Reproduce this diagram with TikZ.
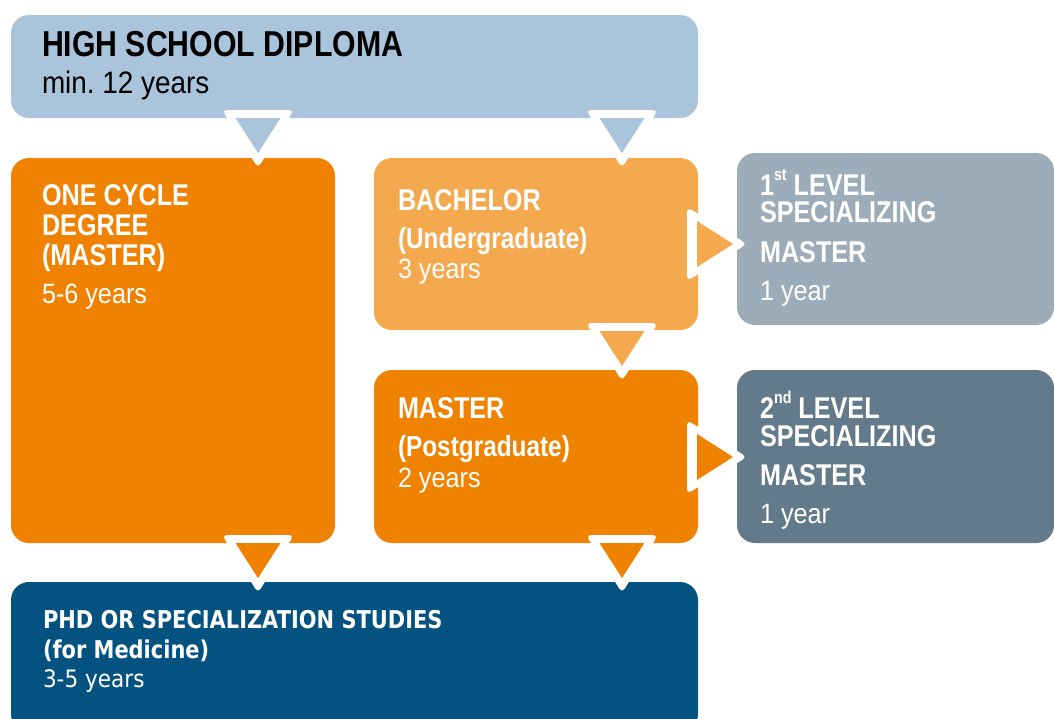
\documentclass[tikz,border=0pt]{standalone}
\usepackage{fontspec}
\setmainfont{Liberation Sans}[UprightFeatures={FakeStretch=0.9},BoldFeatures={FakeStretch=0.84}]
\newfontfamily\phdfont{DejaVu Sans}[UprightFeatures={FakeStretch=0.9},BoldFeatures={FakeStretch=0.855}]
\usetikzlibrary{calc}
\definecolor{topc}{HTML}{A9C4DB}
\definecolor{orgc}{HTML}{EF8200}
\definecolor{lorc}{HTML}{F5A94F}
\definecolor{gonec}{HTML}{9CADB9}
\definecolor{gtwoc}{HTML}{637A8A}
\definecolor{phdc}{HTML}{04527F}
\newcommand\downtri[2]{%
  \fill[white, rounded corners=5pt] ($(#1)+(-36,-8)$) -- ($(#1)+(36,-8)$) -- ($(#1)+(0,50)$) -- cycle;
  \fill[#2] ($(#1)+(-22.5,0)$) -- ($(#1)+(22.5,0)$) -- ($(#1)+(0,35)$) -- cycle;}
\newcommand\righttri[2]{%
  \fill[white, rounded corners=5pt] ($(#1)+(-10,-37)$) -- ($(#1)+(-10,37)$) -- ($(#1)+(50,0)$) -- cycle;
  \fill[#2] ($(#1)+(0,-23)$) -- ($(#1)+(0,23)$) -- ($(#1)+(36,0)$) -- cycle;}
\newcommand\supr[1]{\raisebox{15pt}{\fontsize{17}{17}\selectfont #1}}
\begin{document}
\begin{tikzpicture}[x=1pt,y=-1pt,
  box/.style={draw=none, rounded corners=18pt, inner sep=0pt, outer sep=0pt},
  lbl/.style={anchor=base west, inner sep=0pt, outer sep=0pt, text=white},
  ttl/.style={font=\fontsize{36}{36}\selectfont\bfseries},
  ttlr/.style={font=\fontsize{31}{31}\selectfont\frenchspacing},
  hb/.style={font=\fontsize{30}{30}\selectfont\bfseries},
  hbp/.style={font=\fontsize{29}{29}\selectfont\bfseries},
  hr/.style={font=\fontsize{28}{28}\selectfont},
  pb/.style={font=\fontsize{24.5}{24.5}\selectfont\phdfont\bfseries},
  pr/.style={font=\fontsize{24}{24}\selectfont\phdfont},
  tight/.style={text depth=0pt},
  capsonly/.style={text height=22pt}]
\useasboundingbox (0,0) rectangle (1054,718);
\clip (0,0) rectangle (1054,718);
% boxes
\node[box, fill=topc, minimum width=687pt, minimum height=103pt] (top) at (354.5,66.5) {};
\node[box, fill=orgc, minimum width=324pt, minimum height=385pt] (one) at (173,350.5) {};
\node[box, fill=lorc, minimum width=324pt, minimum height=172pt] (bach) at (536,244) {};
\node[box, fill=orgc, minimum width=324pt, minimum height=173pt] (mast) at (536,456.5) {};
\node[box, fill=gonec, minimum width=317pt, minimum height=172pt] (lvlone) at (895.5,239) {};
\node[box, fill=gtwoc, minimum width=317pt, minimum height=173pt] (lvltwo) at (895.5,456.5) {};
\node[box, fill=phdc, minimum width=687pt, minimum height=150pt] (phd) at (354.5,657) {};
% arrow heads
\coordinate (aone) at (258,118);
\coordinate (atwo) at (622,118);
\coordinate (athree) at (622,331);
\coordinate (afour) at (258,543);
\coordinate (afive) at (622,543);
\coordinate (asix) at (697,244);
\coordinate (aseven) at (697,457);
\downtri{aone}{topc}
\downtri{atwo}{topc}
\downtri{athree}{lorc}
\downtri{afour}{orgc}
\downtri{afive}{orgc}
\righttri{asix}{lorc}
\righttri{aseven}{orgc}
% texts
\node[lbl, ttl, text=black] (ta) at (42,56) {HIGH SCHOOL DIPLOMA};
\node[lbl, ttlr, text=black] (tb) at (42,93) {min. 12 years};
\node[lbl, hb] (oa) at (42,205) {ONE CYCLE};
\node[lbl, hb] (ob) at (42,235) {DEGREE};
\node[lbl, hb] (oc) at (42,265) {(MASTER)};
\node[lbl, hr] (od) at (42,303) {5-6 years};
\node[lbl, hb] (ba) at (398,210) {BACHELOR};
\node[lbl, hbp] (bb) at (398,248) {(Undergraduate)};
\node[lbl, hr] (bc) at (398,278) {3 years};
\node[lbl, hb] (ma) at (398,418) {MASTER};
\node[lbl, hbp] (mb) at (398,456) {(Postgraduate)};
\node[lbl, hr] (mc) at (398,487) {2 years};
\node[lbl, hb, tight] (la) at (760,195) {1\supr{st} LEVEL};
\node[lbl, hb, capsonly] (lb) at (760,222) {SPECIALIZING};
\node[lbl, hb] (lc) at (760,262) {MASTER};
\node[lbl, hr] (ld) at (760,300) {1 year};
\node[lbl, hb, tight] (sa) at (760,418) {2\supr{nd} LEVEL};
\node[lbl, hb, capsonly] (sb) at (760,446) {SPECIALIZING};
\node[lbl, hb] (sc) at (760,485) {MASTER};
\node[lbl, hr] (sd) at (760,523) {1 year};
\node[lbl, pb] (pa) at (43,628) {PHD OR SPECIALIZATION STUDIES};
\node[lbl, pb] (pbb) at (43,658) {(for Medicine)};
\node[lbl, pr] (pc) at (43,687) {3-5 years};
\end{tikzpicture}
\end{document}
